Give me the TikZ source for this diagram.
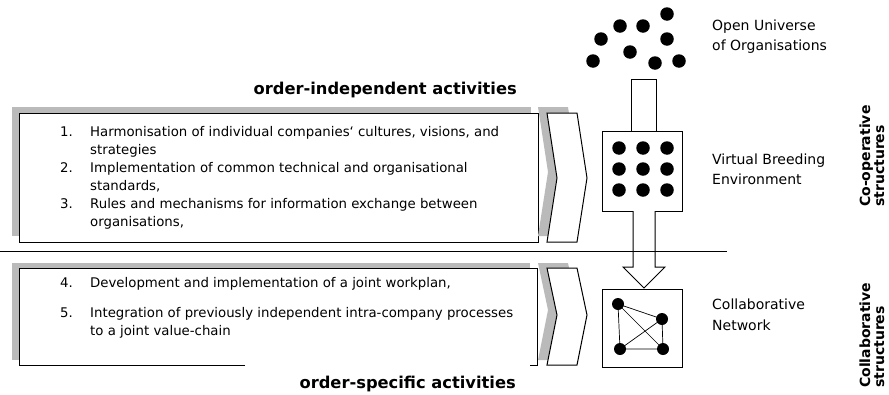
\documentclass[tikz,border=0pt]{standalone}
\usepackage{fontspec}
\setmainfont{DejaVu Sans}
\begin{document}
\begin{tikzpicture}[x=1pt,y=-1pt,
  shadowfill/.style={fill=black!27},
  boxline/.style={draw=black, line width=1pt, fill=white},
  thinline/.style={draw=black, line width=0.8pt},
  item/.style={anchor=base west, inner sep=0pt, font=\fontsize{13.3}{18}\selectfont},
  label/.style={anchor=base west, inner sep=0pt, font=\fontsize{14}{18}\selectfont},
  heading/.style={anchor=base east, inner sep=0pt, font=\fontsize{16.3}{19}\selectfont\bfseries},
  sidelabel/.style={anchor=base west, inner sep=0pt, rotate=90, font=\fontsize{14}{14}\selectfont\bfseries},
  dot/.style={circle, fill=black, inner sep=0pt, minimum size=13.5pt},
  ndot/.style={circle, fill=black, inner sep=0pt, minimum size=12pt}]
\useasboundingbox (0,0) rectangle (889,394);

% ---------- upper box ----------
\fill[shadowfill] (12,107) rectangle (531,236);
\draw[boxline] (19,113) rectangle (538,242);
\fill[shadowfill] (538,107) -- (568,107) -- (578,172) -- (568,236) -- (538,236) -- (548,172) -- cycle;
\draw[boxline] (547,113) -- (577,113) -- (587,178) -- (577,242) -- (547,242) -- (557,178) -- cycle;

\node[item] (n1) at (60,136) {1.};
\node[item] (t1a) at (90,136) {Harmonisation of individual companies‘ cultures, visions, and};
\node[item] (t1b) at (90,154) {strategies};
\node[item] (n2) at (60,172) {2.};
\node[item] (t2a) at (90,172) {Implementation of common technical and organisational};
\node[item] (t2b) at (90,190) {standards,};
\node[item] (n3) at (60,208) {3.};
\node[item] (t3a) at (90,208) {Rules and mechanisms for information exchange between};
\node[item] (t3b) at (90,226) {organisations,};

% ---------- separator ----------
\draw[thinline] (0,251) -- (727,251);

% ---------- lower box ----------
\fill[shadowfill] (12,263) rectangle (530,360);
\fill[white] (19,268) rectangle (537,365);
\draw[line width=1pt] (245,365) -- (19,365) -- (19,268) -- (537,268) -- (537,365) -- (530,365);
\fill[shadowfill] (538,263) -- (568,263) -- (578,310) -- (568,360) -- (538,360) -- (548,310) -- cycle;
\draw[boxline] (547,268) -- (577,268) -- (587,315) -- (577,365) -- (547,365) -- (557,315) -- cycle;

\node[item] (n4) at (60,287) {4.};
\node[item] (t4a) at (90,287) {Development and implementation of a joint workplan,};
\node[item] (n5) at (60,317) {5.};
\node[item] (t5a) at (90,317) {Integration of previously independent intra-company processes};
\node[item] (t5b) at (90,335) {to a joint value-chain};

% ---------- headings ----------
\node[heading] (h1) at (517,94) {order-independent activities};
\node[heading] (h2) at (516,388) {order-specific activities};

% ---------- open universe dots ----------
\node[dot] (u1) at (593,61) {};
\node[dot] (u2) at (601,39) {};
\node[dot] (u3) at (620,26) {};
\node[dot] (u4) at (643,26) {};
\node[dot] (u5) at (630,52) {};
\node[dot] (u6) at (667,14) {};
\node[dot] (u7) at (667,39) {};
\node[dot] (u8) at (655,63) {};
\node[dot] (u9) at (679,61) {};

% ---------- upper stem ----------
\draw[boxline] (631,79) rectangle (656,131);

% ---------- VBE box ----------
\draw[boxline] (602,131) rectangle (682,211);
\foreach \r [count=\i] in {148,169,190}{
  \foreach \c [count=\j] in {619,643,667}{
    \node[dot] (g\i\j) at (\c,\r) {};
  }
}

% ---------- lower arrow ----------
\draw[line width=1pt, fill=white] (633,211) -- (633,267) -- (623,267) -- (644,288) -- (665,267) -- (655,267) -- (655,211);
\draw[thinline] (631,251) -- (658,251);

% ---------- CN box ----------
\draw[boxline] (602,289) rectangle (682,367);
\node[ndot] (c1) at (618,304) {};
\node[ndot] (c2) at (662,319) {};
\node[ndot] (c3) at (620,349) {};
\node[ndot] (c4) at (663,349) {};
\draw[line width=0.7pt] (c1.center) -- (c2.center) -- (c4.center) -- (c3.center) -- (c1.center) -- (c4.center);
\draw[line width=0.7pt] (c2.center) -- (c3.center);

% ---------- right labels ----------
\node[label] (l1a) at (712,30) {Open Universe};
\node[label] (l1b) at (712,50) {of Organisations};
\node[label] (l2a) at (712,164) {Virtual Breeding};
\node[label] (l2b) at (712,184) {Environment};
\node[label] (l3a) at (712,309) {Collaborative};
\node[label] (l3b) at (712,330) {Network};

% ---------- side labels ----------
\node[sidelabel] (s1a) at (870,207) {Co-operative};
\node[sidelabel] (s1b) at (884,207) {structures};
\node[sidelabel] (s2a) at (870,388) {Collaborative};
\node[sidelabel] (s2b) at (884,388) {structures};
\end{tikzpicture}
\end{document}
